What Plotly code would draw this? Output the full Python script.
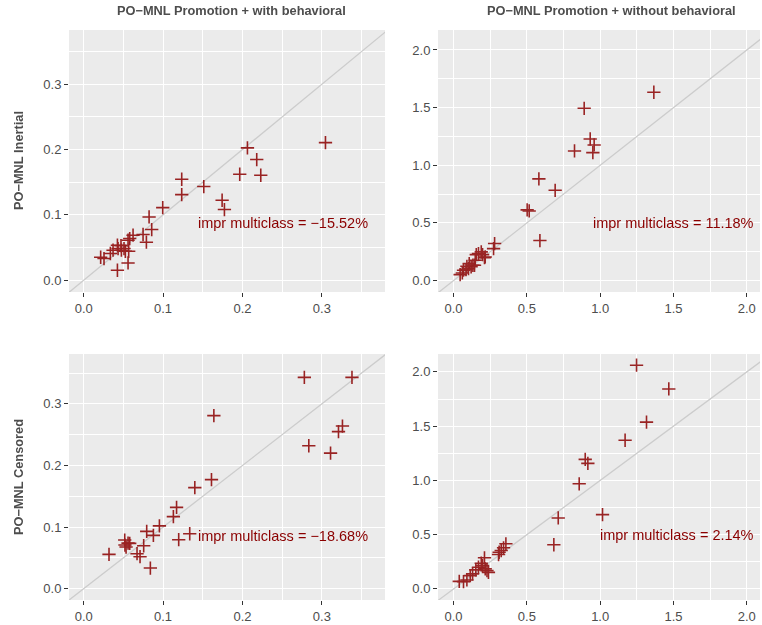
import plotly.graph_objects as go

# Model comparison scatter: x = baseline model, y = compared model
col_titles = ["PO\u2212MNL Promotion + with behavioral", "PO\u2212MNL Promotion + without behavioral"]
row_titles = ["PO\u2212MNL Inertial", "PO\u2212MNL Censored"]

# Inertial, with behavioral
inert_beh_x = [0.3046, 0.2063, 0.218, 0.1966, 0.2231, 0.1513, 0.1235, 0.1235, 0.1744, 0.1773,
               0.0996, 0.0824, 0.0857, 0.079, 0.0748, 0.0622, 0.058, 0.0559, 0.0559, 0.0425,
               0.0214, 0.0256, 0.0336, 0.037, 0.0425, 0.0433, 0.0475, 0.0508, 0.0525, 0.0567, 0.047]
inert_beh_y = [0.2107, 0.2026, 0.1847, 0.1622, 0.1607, 0.1434, 0.1546, 0.1311, 0.1224, 0.1082,
               0.1112, 0.0969, 0.0776, 0.0582, 0.070, 0.0689, 0.0638, 0.0613, 0.0265, 0.0153,
               0.0352, 0.0332, 0.0409, 0.046, 0.0536, 0.0485, 0.046, 0.0485, 0.0444, 0.0444, 0.053]

# Inertial, without behavioral
inert_nobeh_x = [1.366, 0.891, 0.932, 0.959, 0.95, 0.825, 0.582, 0.693, 0.502, 0.516,
                 0.589, 0.28, 0.273, 0.045, 0.068, 0.091, 0.107, 0.132, 0.148, 0.155,
                 0.17, 0.198, 0.211, 0.189, 0.102, 0.085, 0.12, 0.143, 0.216, 0.06]
inert_nobeh_y = [1.633, 1.494, 1.228, 1.176, 1.11, 1.124, 0.882, 0.783, 0.613, 0.604,
                 0.347, 0.321, 0.277, 0.052, 0.09, 0.124, 0.147, 0.133, 0.176, 0.225,
                 0.234, 0.225, 0.199, 0.249, 0.104, 0.095, 0.12, 0.133, 0.205, 0.066]

# Censored, with behavioral
cens_beh_x = [0.278, 0.338, 0.164, 0.326, 0.321, 0.2836, 0.311, 0.161, 0.140, 0.117,
              0.113, 0.0954, 0.1336, 0.1197, 0.0878, 0.0794, 0.0756, 0.084, 0.071, 0.0672,
              0.0559, 0.0517, 0.052, 0.0534, 0.058, 0.0319]
cens_beh_y = [0.343, 0.343, 0.281, 0.264, 0.255, 0.232, 0.22, 0.177, 0.164, 0.132,
              0.117, 0.102, 0.0892, 0.0795, 0.0865, 0.093, 0.0697, 0.0335, 0.0519, 0.0568,
              0.074, 0.0789, 0.0708, 0.0676, 0.0735, 0.0557]

# Censored, without behavioral
cens_nobeh_x = [1.248, 1.468, 1.316, 1.17, 0.898, 0.916, 0.857, 0.714, 1.016, 0.684,
                0.039, 0.068, 0.091, 0.114, 0.13, 0.152, 0.170, 0.189, 0.211, 0.198,
                0.228, 0.238, 0.216, 0.311, 0.325, 0.341, 0.357, 0.307]
cens_nobeh_y = [2.062, 1.843, 1.537, 1.370, 1.194, 1.157, 0.969, 0.654, 0.685, 0.407,
                0.07, 0.067, 0.083, 0.123, 0.139, 0.176, 0.2, 0.237, 0.287, 0.215,
                0.169, 0.153, 0.185, 0.338, 0.354, 0.379, 0.416, 0.317]

impr_labels = ["impr multiclass = \u221215.52%", "impr multiclass = 11.18%",
               "impr multiclass = \u221218.68%", "impr multiclass = 2.14%"]

panels = [
    dict(x=inert_beh_x, y=inert_beh_y, xr=[-0.0185, 0.3796], yr=[-0.018, 0.383], dt=0.1,
         lab=(0.361, 0.0877), text=impr_labels[0]),
    dict(x=inert_nobeh_x, y=inert_nobeh_y, xr=[-0.106, 2.09], yr=[-0.099, 2.173], dt=0.5,
         lab=(2.062, 0.5), text=impr_labels[1]),
    dict(x=cens_beh_x, y=cens_beh_y, xr=[-0.0185, 0.3796], yr=[-0.0184, 0.381], dt=0.1,
         lab=(0.361, 0.086), text=impr_labels[2]),
    dict(x=cens_nobeh_x, y=cens_nobeh_y, xr=[-0.106, 2.09], yr=[-0.102, 2.165], dt=0.5,
         lab=(2.062, 0.5), text=impr_labels[3]),
]

W, H = 762, 625
col_dom = [[69 / W, 385 / W], [438 / W, 760 / W]]
row_dom = [[(H - 292) / H, (H - 30) / H], [(H - 600) / H, (H - 354) / H]]

FONT = "Liberation Sans, Arial, sans-serif"
RED = "#8B0000"

fig = go.Figure()
layout = dict(width=W, height=H, margin=dict(l=0, r=0, t=0, b=0),
              paper_bgcolor="white", plot_bgcolor="#EBEBEB", showlegend=False,
              font=dict(family=FONT, color="#4D4D4D"))
annotations = []

for i, p in enumerate(panels):
    r, c = divmod(i, 2)
    n = i + 1
    xa = "x" if n == 1 else f"x{n}"
    ya = "y" if n == 1 else f"y{n}"
    # reference diagonal y = x, clipped by the axis range
    fig.add_trace(go.Scatter(x=[-1, 3], y=[-1, 3], mode="lines",
                             line=dict(color="#CCCCCC", width=1.3),
                             xaxis=xa, yaxis=ya, hoverinfo="skip"))
    fig.add_trace(go.Scatter(x=p["x"], y=p["y"], mode="markers",
                             marker=dict(symbol="cross-thin-open", size=9.5,
                                         line=dict(color=RED, width=1.6), color=RED),
                             opacity=0.85, xaxis=xa, yaxis=ya))
    ax_common = dict(showgrid=True, gridcolor="white", gridwidth=1.1, zeroline=False,
                     ticks="outside", ticklen=4, tickwidth=1, tickcolor="#333333",
                     tickfont=dict(size=13, color="#4D4D4D", family=FONT),
                     dtick=p["dt"], tick0=0, tickformat=".1f", showline=False,
                     minor=dict(dtick=p["dt"] / 2, tick0=0, showgrid=True,
                                gridcolor="white", gridwidth=0.55))
    layout["xaxis" if n == 1 else f"xaxis{n}"] = dict(
        ax_common, domain=col_dom[c], range=p["xr"], anchor=ya)
    layout["yaxis" if n == 1 else f"yaxis{n}"] = dict(
        ax_common, domain=row_dom[r], range=p["yr"], anchor=xa)
    annotations.append(dict(x=p["lab"][0], y=p["lab"][1], xref=xa, yref=ya,
                            text=p["text"], showarrow=False, xanchor="right",
                            yanchor="middle",
                            font=dict(size=14.5, color=RED, family=FONT)))

# column titles
for c, t in enumerate(col_titles):
    annotations.append(dict(x=[231, 611][c] / W, y=1 - 11 / H, xref="paper", yref="paper",
                            text=f"<b>{t}</b>", showarrow=False, xanchor="center",
                            yanchor="middle", font=dict(size=12.8, color="#4D4D4D", family=FONT)))
# row titles
for r, t in enumerate(row_titles):
    yc = [161, 477][r]
    annotations.append(dict(x=18 / W, y=1 - yc / H, xref="paper", yref="paper",
                            text=f"<b>{t}</b>", showarrow=False, textangle=-90,
                            xanchor="center", yanchor="middle",
                            font=dict(size=12.8, color="#4D4D4D", family=FONT)))

layout["annotations"] = annotations
fig.update_layout(**layout)
fig.write_html("out.html")
